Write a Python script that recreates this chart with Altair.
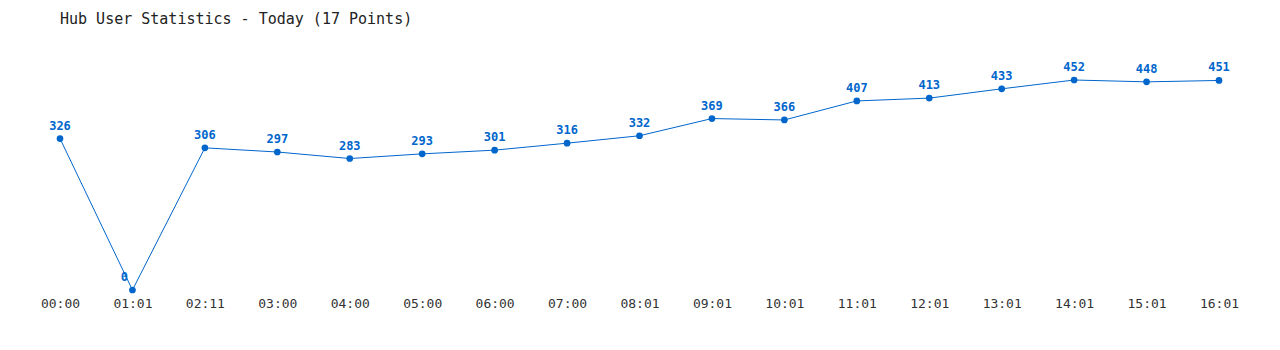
import altair as alt
import pandas as pd

times = ["00:00", "01:01", "02:11", "03:00", "04:00", "05:00", "06:00", "07:00", "08:01",
         "09:01", "10:01", "11:01", "12:01", "13:01", "14:01", "15:01", "16:01"]
users = [326, 0, 306, 297, 283, 293, 301, 316, 332, 369, 366, 407, 413, 433, 452, 448, 451]

df = pd.DataFrame({"time": times, "users": users})

BLUE = "#0066cc"
MONO = "DejaVu Sans Mono"

x = alt.X("time:N", sort=times, title=None,
          scale=alt.Scale(type="point", padding=0),
          axis=alt.Axis(labelAngle=0, domain=False, ticks=False, grid=False,
                        labelFont=MONO, labelFontSize=13, labelColor="#333333",
                        labelPadding=7))
y = alt.Y("users:Q", title=None, scale=alt.Scale(domain=[0, 452], nice=False, zero=True),
          axis=None)

base = alt.Chart(df).encode(x=x, y=y)

line = base.mark_line(color=BLUE, strokeWidth=1)
pts = base.mark_point(filled=True, color=BLUE, size=45, opacity=1)
labels = base.transform_filter("datum.users > 0").mark_text(
    color=BLUE, font=MONO, fontSize=12, fontWeight="bold", dy=-13
).encode(text="users:Q")
zero_labels = base.transform_filter("datum.users == 0").mark_text(
    color=BLUE, font=MONO, fontSize=12, fontWeight="bold", dx=-8, dy=-13
).encode(text="users:Q")

chart = (line + pts + labels + zero_labels).properties(
    width=1159, height=210,
    title=alt.TitleParams("Hub User Statistics - Today (17 Points)", anchor="start",
                          frame="group",
                          font=MONO, fontSize=15, fontWeight="normal", color="#222222",
                          offset=34),
    autosize=alt.AutoSizeParams(type="none"),
    padding={"left": 60, "top": 80, "right": 61, "bottom": 60},
).configure_view(stroke=None)

chart.save("out.html", embed_options={"renderer": "svg", "actions": False})
